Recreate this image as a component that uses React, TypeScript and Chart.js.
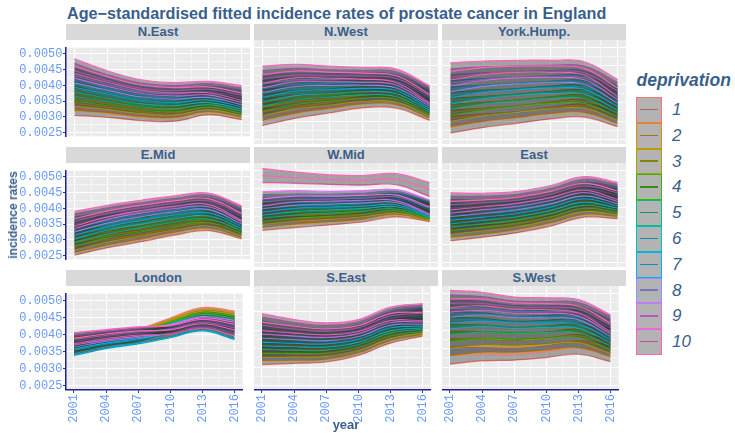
import React, { useEffect, useRef } from "react";
import { Chart, registerables } from "chart.js";

Chart.register(...registerables);

// ---------- data ----------
const YEARS = [2001, 2004, 2007, 2010, 2013, 2016];
const X_MAJOR = [2001, 2004, 2007, 2010, 2013, 2016];
const X_MINOR = [2002.5, 2005.5, 2008.5, 2011.5, 2014.5];
const Y_MAJOR = [0.0025, 0.003, 0.0035, 0.004, 0.0045, 0.005];
const Y_MINOR = [0.00275, 0.00325, 0.00375, 0.00425, 0.00475];
const X_RANGE = [2000.25, 2016.75];
const Y_RANGE = [0.00238, 0.0052];
const DEPRIVATION = ["1", "2", "3", "4", "5", "6", "7", "8", "9", "10"];
const REGIONS = ["N.East", "N.West", "York.Hump.", "E.Mid", "W.Mid", "East", "London", "S.East", "S.West"];
const RATE_UNIT = 1e-5; // values below are fitted rates x 100,000

const N_EAST = [
  [327, 316, 304, 302, 324, 314],
  [343, 330, 316, 313, 333, 321],
  [358, 342, 327, 323, 341, 328],
  [374, 354, 338, 333, 349, 335],
  [389, 367, 349, 343, 357, 342],
  [403, 378, 358, 353, 364, 348],
  [418, 391, 369, 363, 372, 355],
  [432, 403, 380, 373, 380, 362],
  [447, 415, 391, 383, 388, 369],
  [462, 428, 402, 393, 395, 376],
];
const N_WEST = [
  [311, 326, 338, 352, 353, 325],
  [325, 339, 350, 362, 362, 331],
  [338, 352, 360, 370, 370, 337],
  [351, 364, 371, 379, 378, 342],
  [364, 376, 382, 388, 385, 348],
  [375, 388, 391, 396, 393, 353],
  [388, 400, 402, 405, 401, 358],
  [401, 412, 413, 414, 408, 364],
  [414, 425, 423, 422, 416, 369],
  [426, 436, 433, 430, 423, 373],
];
const YORK_HUMP = [
  [291, 301, 310, 322, 329, 308],
  [307, 317, 325, 336, 341, 316],
  [323, 333, 341, 350, 354, 326],
  [339, 349, 357, 365, 367, 335],
  [356, 366, 372, 379, 380, 345],
  [370, 380, 387, 392, 392, 353],
  [387, 397, 402, 407, 405, 363],
  [403, 413, 418, 421, 418, 372],
  [419, 429, 434, 435, 431, 382],
  [435, 445, 449, 449, 443, 390],
];
const E_MID = [
  [274, 293, 310, 331, 347, 326],
  [282, 301, 318, 339, 354, 330],
  [291, 312, 329, 348, 363, 337],
  [304, 325, 342, 361, 374, 345],
  [316, 337, 355, 373, 385, 352],
  [327, 350, 367, 384, 395, 360],
  [338, 361, 379, 395, 405, 367],
  [349, 372, 390, 406, 415, 374],
  [359, 384, 402, 416, 424, 381],
  [367, 392, 410, 424, 431, 385],
];
const W_MID = [
  [356, 360, 365, 373, 389, 380],
  [364, 369, 373, 380, 395, 383],
  [373, 378, 381, 388, 400, 385],
  [381, 386, 389, 395, 406, 388],
  [390, 395, 398, 403, 411, 391],
  [398, 404, 406, 410, 417, 393],
  [406, 413, 414, 417, 422, 396],
  [415, 421, 422, 425, 428, 398],
  [423, 430, 430, 432, 433, 401],
  [486, 480, 475, 473, 476, 448],
];
const EAST = [
  [332, 337, 347, 365, 391, 392],
  [341, 345, 355, 373, 398, 397],
  [350, 355, 364, 382, 407, 403],
  [360, 365, 374, 391, 416, 409],
  [370, 374, 383, 400, 424, 415],
  [378, 383, 391, 408, 432, 421],
  [388, 392, 400, 417, 441, 427],
  [398, 402, 410, 426, 449, 433],
  [407, 412, 419, 435, 458, 439],
  [416, 420, 427, 443, 465, 444],
];
const LONDON = [
  [376, 392, 405, 437, 466, 453],
  [374, 390, 402, 433, 461, 448],
  [371, 387, 399, 429, 456, 443],
  [368, 384, 396, 425, 451, 438],
  [364, 381, 393, 421, 446, 432],
  [355, 372, 385, 403, 424, 402],
  [358, 375, 388, 406, 427, 405],
  [380, 394, 404, 418, 440, 426],
  [386, 398, 408, 416, 436, 420],
  [390, 402, 411, 414, 432, 414],
];
const S_EAST = [
  [330, 328, 330, 348, 383, 407],
  [340, 336, 337, 354, 389, 411],
  [350, 346, 346, 362, 396, 416],
  [361, 356, 355, 370, 403, 421],
  [371, 365, 363, 377, 411, 426],
  [381, 374, 371, 384, 417, 430],
  [391, 383, 380, 392, 425, 435],
  [402, 393, 388, 399, 432, 440],
  [413, 403, 397, 407, 439, 446],
  [422, 411, 404, 413, 445, 449],
];
const S_WEST = [
  [331, 335, 335, 342, 353, 338],
  [354, 358, 356, 362, 370, 351],
  [375, 378, 375, 379, 385, 361],
  [393, 396, 391, 395, 399, 371],
  [412, 414, 408, 411, 412, 381],
  [428, 429, 422, 424, 424, 390],
  [443, 444, 437, 437, 435, 398],
  [459, 460, 451, 450, 447, 406],
  [473, 473, 463, 462, 457, 414],
  [485, 485, 474, 472, 465, 419],
];
// confidence band half-widths (x 100,000) at each year
const CI_HALF = [23, 18, 16, 16, 18, 23];
const CI_HALF_WMID = [19, 15, 13, 13, 15, 19];
const CI_HALF_LONDON = [16, 13, 12, 12, 13, 16];

const PANEL_SERIES = [N_EAST, N_WEST, YORK_HUMP, E_MID, W_MID, EAST, LONDON, S_EAST, S_WEST];
const PANEL_CI = [CI_HALF, CI_HALF, CI_HALF, CI_HALF, CI_HALF_WMID, CI_HALF, CI_HALF_LONDON, CI_HALF, CI_HALF];

// ---------- style ----------
const COLORS = ["#F8766D", "#D89000", "#A3A500", "#39B600", "#00BF7D", "#00BFC4", "#00B0F6", "#9590FF", "#E76BF3", "#FF62BC"];
const RIBBON_FILL = "rgba(51,51,51,0.4)";
const TEXT_COLOR = "#3A5F8B";
const TICK_TEXT = "#6B9AF2";
const AXIS_LINE = "#1E1E96";
const MONO = "'Liberation Mono', 'DejaVu Sans Mono', monospace";
const SANS = "'Liberation Sans', Arial, sans-serif";
const COL_LEFT = [66, 254, 442];
const ROW_TOP = [40, 163, 286];
const PANEL_W = 184;
const PANEL_H = 104;
const X_AXIS_H = 43;

const isMajorY = (v: number) => Y_MAJOR.some((m) => Math.abs(m - v) < 1e-9);
const isMajorX = (v: number) => X_MAJOR.some((m) => Math.abs(m - v) < 1e-9);

function mix(hex: string, grey: number, a: number) {
  const n = parseInt(hex.slice(1), 16);
  const r = (n >> 16) & 255, g = (n >> 8) & 255, b = n & 255;
  const f = (c: number) => Math.round(c * (1 - a) + grey * a);
  return `rgb(${f(r)},${f(g)},${f(b)})`;
}

const bgPlugin = {
  id: "panelBg",
  beforeDraw(chart: any) {
    const { ctx, chartArea } = chart;
    ctx.save();
    ctx.fillStyle = "#EBEBEB";
    ctx.fillRect(chartArea.left, chartArea.top, chartArea.right - chartArea.left, chartArea.bottom - chartArea.top);
    ctx.restore();
  },
};

function Panel({ index }: { index: number }) {
  const ref = useRef<HTMLCanvasElement | null>(null);
  const row = Math.floor(index / 3);
  const col = index % 3;
  const showY = col === 0;
  const showX = row === 2;
  const padL = showY ? COL_LEFT[0] : 0;
  const padB = showX ? X_AXIS_H : 0;
  const width = PANEL_W + padL;
  const height = PANEL_H + padB;

  useEffect(() => {
    const canvas = ref.current;
    if (!canvas) return;
    const series = PANEL_SERIES[index];
    const ci = PANEL_CI[index];
    const datasets: any[] = [];
    let seq = 0;
    const toPts = (arr: number[]) => arr.map((v, i) => ({ x: YEARS[i], y: v * RATE_UNIT }));
    series.forEach((center, d) => {
      const color = COLORS[d];
      const lower = center.map((v, i) => v - ci[i]);
      const upper = center.map((v, i) => v + ci[i]);
      const base = {
        borderColor: color,
        borderWidth: 1.2,
        pointRadius: 0,
        pointHoverRadius: 0,
        tension: 0.4,
        fill: false,
      };
      const lowerIdx = datasets.length;
      datasets.push({ ...base, label: DEPRIVATION[d] + " lower", data: toPts(lower), order: 1000 - seq++ });
      datasets.push({
        ...base,
        label: DEPRIVATION[d] + " upper",
        data: toPts(upper),
        fill: lowerIdx,
        backgroundColor: RIBBON_FILL,
        order: 1000 - seq++,
      });
      datasets.push({ ...base, label: DEPRIVATION[d], data: toPts(center), order: 1000 - seq++ });
    });

    const chart = new Chart(canvas, {
      type: "line",
      data: { datasets },
      options: {
        responsive: false,
        maintainAspectRatio: false,
        animation: false,
        events: [],
        layout: { padding: 0, autoPadding: false },
        plugins: { legend: { display: false }, tooltip: { enabled: false }, title: { display: false } },
        scales: {
          x: {
            type: "linear",
            min: X_RANGE[0],
            max: X_RANGE[1],
            afterBuildTicks: (s: any) => {
              s.ticks = [...X_MAJOR, ...X_MINOR].sort((a, b) => a - b).map((v) => ({ value: v }));
            },
            afterFit: (s: any) => {
              s.height = padB;
            },
            ticks: {
              display: showX,
              autoSkip: false,
              minRotation: 90,
              maxRotation: 90,
              padding: 1,
              color: TICK_TEXT,
              font: { family: MONO, size: 12 },
              callback: (v: any) => (isMajorX(Number(v)) ? String(v) : ""),
            },
            grid: {
              color: "#FFFFFF",
              lineWidth: (c: any) => (c.tick && isMajorX(c.tick.value) ? 1.1 : 0.55),
              drawTicks: showX,
              tickLength: 3,
              tickWidth: 1,
              tickColor: (c: any) => (c.tick && isMajorX(c.tick.value) ? "#333333" : "rgba(0,0,0,0)"),
            },
            border: { display: showX, color: AXIS_LINE, width: 1.5 },
          },
          y: {
            type: "linear",
            min: Y_RANGE[0],
            max: Y_RANGE[1],
            afterBuildTicks: (s: any) => {
              s.ticks = [...Y_MAJOR, ...Y_MINOR].sort((a, b) => a - b).map((v) => ({ value: v }));
            },
            afterFit: (s: any) => {
              s.width = padL;
            },
            ticks: {
              display: showY,
              autoSkip: false,
              padding: 0.5,
              color: TICK_TEXT,
              font: { family: MONO, size: 12 },
              callback: (v: any) => (isMajorY(Number(v)) ? Number(v).toFixed(4) : ""),
            },
            grid: {
              color: "#FFFFFF",
              lineWidth: (c: any) => (c.tick && isMajorY(c.tick.value) ? 1.1 : 0.55),
              drawTicks: showY,
              tickLength: 3,
              tickWidth: 1,
              tickColor: (c: any) => (c.tick && isMajorY(c.tick.value) ? "#333333" : "rgba(0,0,0,0)"),
            },
            border: { display: showY, color: AXIS_LINE, width: 1.5 },
          },
        },
      } as any,
      plugins: [bgPlugin],
    });
    return () => chart.destroy();
  }, [index]);

  return (
    <canvas
      ref={ref}
      width={width}
      height={height}
      style={{ position: "absolute", left: COL_LEFT[col] - padL, top: ROW_TOP[row], width, height }}
    />
  );
}

export default function App() {
  const keyTop = 97;
  const keyH = 25.8;
  return (
    <div
      style={{
        position: "absolute",
        left: 0,
        top: 0,
        width: 735,
        height: 433,
        background: "#FFFFFF",
        fontFamily: SANS,
        overflow: "hidden",
      }}
    >
      <div
        style={{
          position: "absolute",
          left: 67,
          top: 4.5,
          fontSize: 16.2,
          lineHeight: 1,
          fontWeight: "bold",
          color: TEXT_COLOR,
          whiteSpace: "nowrap",
        }}
      >
        Age−standardised fitted incidence rates of prostate cancer in England
      </div>

      {REGIONS.map((name, i) => {
        const row = Math.floor(i / 3);
        const col = i % 3;
        return (
          <div
            key={name}
            style={{
              position: "absolute",
              left: COL_LEFT[col],
              top: ROW_TOP[row] - 16,
              width: PANEL_W,
              height: 16,
              lineHeight: "16px",
              background: "#D9D9D9",
              textAlign: "center",
              fontSize: 13,
              fontWeight: "bold",
              color: TEXT_COLOR,
            }}
          >
            {name}
          </div>
        );
      })}

      {REGIONS.map((name, i) => (
        <Panel key={"p" + name} index={i} />
      ))}

      <div
        style={{
          position: "absolute",
          left: 12.5,
          top: 215,
          transform: "translate(-50%, -50%) rotate(-90deg)",
          fontSize: 12,
          fontWeight: "bold",
          color: TEXT_COLOR,
          whiteSpace: "nowrap",
          lineHeight: 1,
        }}
      >
        incidence rates
      </div>
      <div
        style={{
          position: "absolute",
          left: 346,
          top: 418,
          transform: "translateX(-50%)",
          fontSize: 13,
          fontWeight: "bold",
          color: TEXT_COLOR,
          lineHeight: 1,
        }}
      >
        year
      </div>

      <div
        style={{
          position: "absolute",
          left: 636.5,
          top: 71.5,
          fontSize: 17.5,
          lineHeight: 1,
          fontWeight: "bold",
          fontStyle: "italic",
          color: TEXT_COLOR,
          whiteSpace: "nowrap",
        }}
      >
        deprivation
      </div>
      {DEPRIVATION.map((lab, d) => {
        const top = keyTop + d * keyH;
        return (
          <React.Fragment key={"k" + lab}>
            <div
              style={{
                position: "absolute",
                left: 636,
                top,
                width: 26,
                height: keyH,
                boxSizing: "border-box",
                border: `1.2px solid ${COLORS[d]}`,
                background: "#B3B3B3",
              }}
            >
              <div
                style={{
                  position: "absolute",
                  left: 3,
                  right: 3,
                  top: keyH / 2 - 2,
                  height: 1.3,
                  background: mix(COLORS[d], 51, 0.3),
                }}
              />
            </div>
            <div
              style={{
                position: "absolute",
                left: 672,
                top,
                height: keyH,
                lineHeight: `${keyH}px`,
                fontSize: 17,
                fontStyle: "italic",
                color: TEXT_COLOR,
              }}
            >
              {lab}
            </div>
          </React.Fragment>
        );
      })}
    </div>
  );
}
